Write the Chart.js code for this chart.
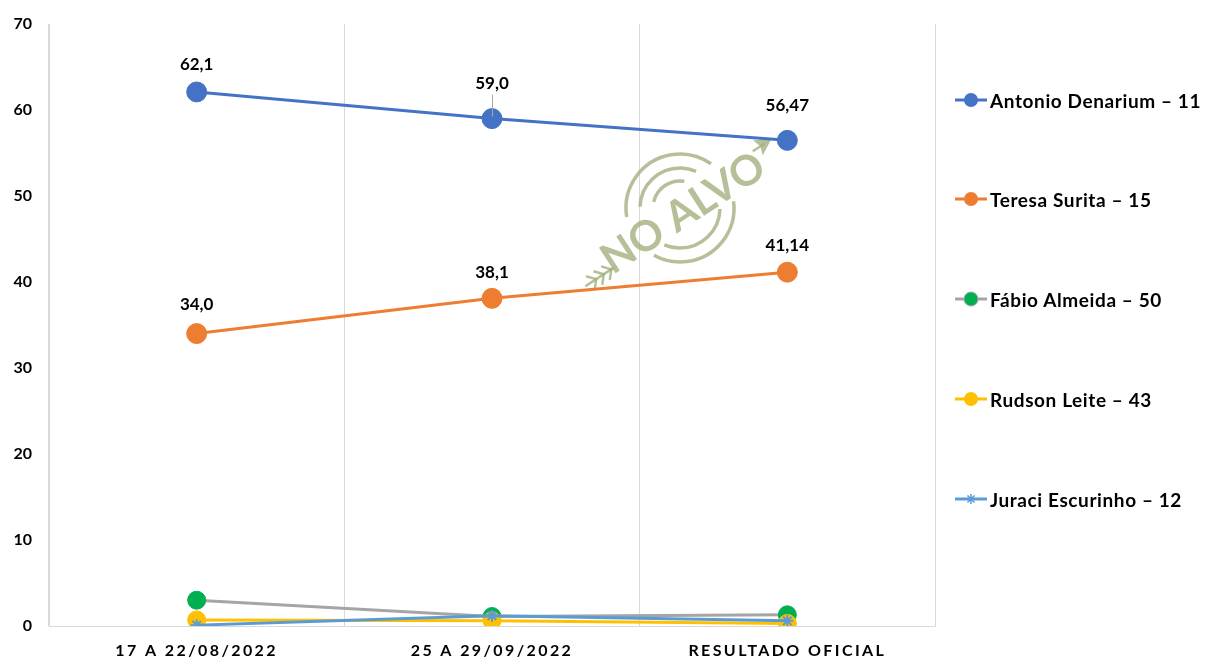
<!DOCTYPE html>
<html><head><meta charset="utf-8">
<script src="https://cdn.jsdelivr.net/npm/chart.js@4/dist/chart.umd.min.js"></script>
<style>
html,body{margin:0;padding:0;background:#fff;}
#wrap{position:relative;width:1205px;height:661px;overflow:hidden;}
#c{position:absolute;left:0;top:0;}
.item{position:absolute;left:955px;height:24px;display:flex;align-items:center;font:bold 19px Lato, sans-serif;letter-spacing:0.6px;color:#000;white-space:nowrap;}
.item canvas{margin-right:1px;}
</style></head><body>
<div id="wrap"><canvas id="c" width="1205" height="661"></canvas><div id="legend"></div></div>
<script>
const categories = ['17 A 22/08/2022', '25 A 29/09/2022', 'RESULTADO OFICIAL'];
const seriesNames = ['Antonio Denarium – 11', 'Teresa Surita – 15', 'Fábio Almeida – 50', 'Rudson Leite – 43', 'Juraci Escurinho – 12'];
const antonio = [62.1, 59.0, 56.47];
const teresa = [34.0, 38.1, 41.14];
const fabio = [3.0, 1.1, 1.3];
const rudson = [0.7, 0.6, 0.3];
const juraci = [0.1, 1.2, 0.6];
const yMin = 0, yMax = 70, yStep = 10;
const labelDecimals = [1, 1, 2];

const fmt = (v, i) => v.toFixed(labelDecimals[i]).replace('.', ',');

const styles = [
  {line: '#4472C4', fill: '#4472C4', border: '#4472C4', style: 'circle', r: 10},
  {line: '#ED7D31', fill: '#ED7D31', border: '#ED7D31', style: 'circle', r: 10},
  {line: '#A5A5A5', fill: '#00B050', border: '#00B050', style: 'circle', r: 9},
  {line: '#FFC000', fill: '#FFC000', border: '#FFC000', style: 'circle', r: 9},
  {line: '#5B9BD5', fill: '#5B9BD5', border: '#5B9BD5', style: 'star', r: 6}
];
const allData = [antonio, teresa, fabio, rudson, juraci];
const drawOrder = [4, 3, 2, 1, 0];

const datasets = allData.map((d, i) => ({
  label: seriesNames[i],
  data: d,
  borderColor: styles[i].line,
  backgroundColor: styles[i].fill,
  pointBackgroundColor: styles[i].fill,
  pointBorderColor: styles[i].border,
  pointBorderWidth: styles[i].style === 'star' ? 2 : 1,
  pointRadius: styles[i].r,
  pointHoverRadius: styles[i].r,
  pointStyle: styles[i].style,
  borderWidth: 3,
  tension: 0,
  order: drawOrder[i]
}));

// data labels
const labelPlugin = {
  id: 'valueLabels',
  afterDatasetsDraw(chart) {
    const ctx = chart.ctx;
    const offsets = [[27, 35, 35], [29, 26, 27]];
    ctx.save();
    ctx.letterSpacing = '0px';
    ctx.font = 'bold 17px Lato, sans-serif';
    ctx.fillStyle = '#000';
    ctx.textAlign = 'center';
    ctx.textBaseline = 'middle';
    [0, 1].forEach(di => {
      const meta = chart.getDatasetMeta(di);
      meta.data.forEach((pt, j) => {
        const ly = pt.y - offsets[di][j];
        ctx.fillText(fmt(allData[di][j], j), pt.x, ly);
        if (di === 0 && j === 1) {
          ctx.save();
          ctx.strokeStyle = '#A6A6A6';
          ctx.lineWidth = 1;
          ctx.beginPath();
          ctx.moveTo(pt.x + 0.5, ly + 11);
          ctx.lineTo(pt.x + 0.5, pt.y - 2);
          ctx.stroke();
          ctx.restore();
        }
      });
    });
    ctx.restore();
  }
};

// watermark
const watermarkPlugin = {
  id: 'watermark',
  beforeDatasetsDraw(chart) {
    const ctx = chart.ctx;
    ctx.save();
    ctx.letterSpacing = '0px';
    const col = 'rgba(160,174,124,0.78)';
    ctx.strokeStyle = col; ctx.fillStyle = col;
    ctx.translate(680, 208);
    ctx.rotate(-33 * Math.PI / 180);
    ctx.lineWidth = 3.5;
    const arcs = [[54, 0.45, 2.65], [54, 3.55, 5.9], [40, 0.6, 2.55], [40, 3.75, 5.7], [27, 3.95, 5.45]];
    arcs.forEach(a => { ctx.beginPath(); ctx.arc(0, 0, a[0], a[1], a[2]); ctx.stroke(); });
    ctx.font = 'bold 42px Lato, sans-serif';
    ctx.textAlign = 'center'; ctx.textBaseline = 'middle';
    ctx.fillText('NO ALVO', 0, 6);
    // arrow head
    ctx.beginPath();
    ctx.moveTo(114, -8); ctx.lineTo(98, -17); ctx.lineTo(101, -8); ctx.lineTo(98, 1); ctx.closePath(); ctx.fill();
    ctx.lineWidth = 2.5;
    ctx.beginPath(); ctx.moveTo(92, -8); ctx.lineTo(106, -8); ctx.stroke();
    // feathers
    ctx.beginPath(); ctx.moveTo(-122, 14); ctx.lineTo(-88, 14); ctx.stroke();
    for (let k = 0; k < 3; k++) {
      const x0 = -116 + k * 9;
      ctx.beginPath(); ctx.moveTo(x0, 6); ctx.lineTo(x0 + 7, 14); ctx.lineTo(x0, 22); ctx.stroke();
    }
    ctx.restore();
  }
};

// letter spacing for x tick labels
const spacingPlugin = {
  id: 'tickSpacing',
  afterLayout(chart) {
    [['x', '2.4px']].forEach(([id, sp]) => {
      const s = chart.scales[id];
      if (s && !s._spWrapped) {
        const orig = s.drawLabels.bind(s);
        s.drawLabels = function(area) {
          const ctx = this.ctx;
          ctx.save(); ctx.letterSpacing = sp; orig(area); ctx.restore();
        };
        s._spWrapped = true;
      }
    });
  }
};

new Chart(document.getElementById('c'), {
  type: 'line',
  data: {labels: categories, datasets},
  options: {
    responsive: false,
    animation: false,
    devicePixelRatio: 1,
    layout: {padding: {top: 24, right: 270, bottom: 0, left: 0}},
    plugins: {legend: {display: false}, tooltip: {enabled: false}},
    scales: {
      x: {
        offset: true,
        grid: {display: true, color: '#D9D9D9', lineWidth: 1, offset: true, drawTicks: false},
        border: {display: true, color: '#D9D9D9', width: 1},
        ticks: {color: '#000', font: {family: 'Lato, sans-serif', weight: 'bold', size: 16}, padding: 15, maxRotation: 0, autoSkip: false},
        afterFit(s) { s.height = 35; }
      },
      y: {
        min: yMin, max: yMax,
        grid: {display: false, drawTicks: false},
        border: {display: true, color: '#D9D9D9', width: 1},
        ticks: {stepSize: yStep, color: '#000', font: {family: 'Lato, sans-serif', weight: 'bold', size: 16}, padding: 17},
        afterFit(s) { s.width = 49; s.paddingTop = 0; s.paddingBottom = 0; }
      }
    }
  },
  plugins: [spacingPlugin, watermarkPlugin, labelPlugin]
});

// HTML legend
const legendEl = document.getElementById('legend');
const legendY = [100, 199, 299, 399, 499];
seriesNames.forEach((name, i) => {
  const item = document.createElement('div');
  item.className = 'item';
  item.style.top = (legendY[i] - 12) + 'px';
  const cv = document.createElement('canvas');
  cv.width = 34; cv.height = 20;
  const c = cv.getContext('2d');
  c.strokeStyle = styles[i].line; c.lineWidth = 3;
  c.beginPath(); c.moveTo(0, 10); c.lineTo(32, 10); c.stroke();
  if (styles[i].style === 'star') {
    c.strokeStyle = styles[i].border; c.lineWidth = 1.5;
    const r = 5;
    c.beginPath();
    for (let k = 0; k < 4; k++) {
      const a = k * Math.PI / 4;
      c.moveTo(16 - r * Math.cos(a), 10 - r * Math.sin(a));
      c.lineTo(16 + r * Math.cos(a), 10 + r * Math.sin(a));
    }
    c.stroke();
  } else {
    c.fillStyle = styles[i].fill;
    c.beginPath(); c.arc(16, 10, 7, 0, Math.PI * 2); c.fill();
    if (i === 2) { c.strokeStyle = '#A5A5A5'; c.lineWidth = 1; c.stroke(); }
  }
  item.appendChild(cv);
  const t = document.createElement('span');
  t.textContent = name;
  item.appendChild(t);
  legendEl.appendChild(item);
});
</script>
</body></html>
